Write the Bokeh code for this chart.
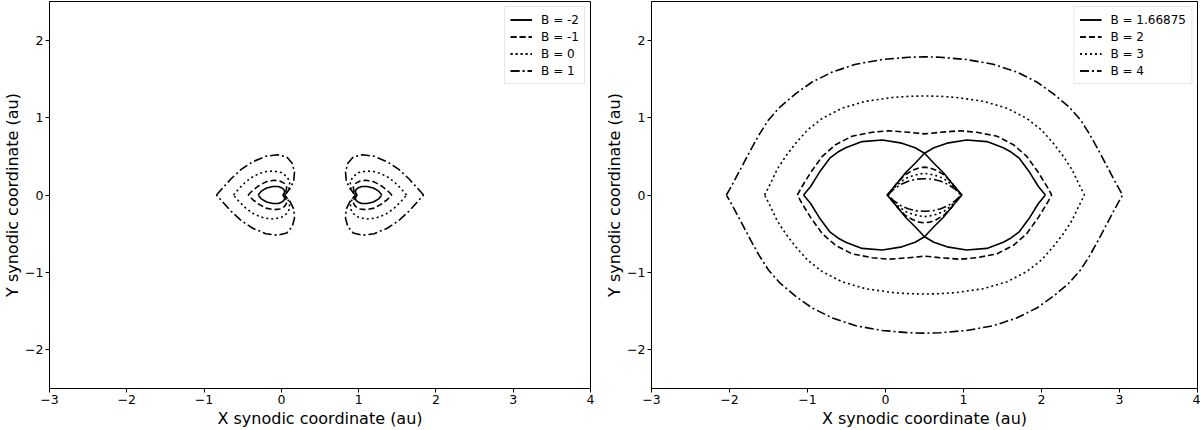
from bokeh.plotting import figure
from bokeh.models import FixedTicker, Legend, LegendItem, Range1d
from bokeh.layouts import row
from bokeh.embed import file_html
from bokeh.resources import INLINE

# ---------------- data (upper halves; curves are symmetric about y=0) ----------
# Left panel: hearts around the body at x=0 (pointing left) and x=1 (pointing right)
lh_bm2_x = [-0.30, -0.26, -0.19, -0.11, -0.04, 0.01, 0.04, 0.04, 0.02]
lh_bm2_y = [0.00, 0.05, 0.09, 0.11, 0.11, 0.09, 0.06, 0.03, 0.00]
rh_bm2_x = [1.30, 1.26, 1.19, 1.11, 1.04, 0.99, 0.96, 0.96, 0.98]
rh_bm2_y = [0.00, 0.05, 0.09, 0.11, 0.11, 0.09, 0.06, 0.03, 0.00]

lh_bm1_x = [-0.43, -0.37, -0.29, -0.20, -0.10, -0.02, 0.04, 0.07, 0.06, 0.03]
lh_bm1_y = [0.00, 0.06, 0.12, 0.17, 0.19, 0.18, 0.15, 0.10, 0.05, 0.00]
rh_bm1_x = [1.43, 1.37, 1.29, 1.20, 1.10, 1.02, 0.96, 0.93, 0.94, 0.97]
rh_bm1_y = [0.00, 0.06, 0.12, 0.17, 0.19, 0.18, 0.15, 0.10, 0.05, 0.00]

lh_b0_x = [-0.62, -0.55, -0.46, -0.35, -0.22, -0.10, 0.00, 0.07, 0.11, 0.10, 0.07, 0.04]
lh_b0_y = [0.00, 0.08, 0.17, 0.25, 0.30, 0.31, 0.29, 0.24, 0.17, 0.09, 0.03, 0.00]
rh_b0_x = [1.62, 1.55, 1.46, 1.35, 1.22, 1.10, 1.00, 0.93, 0.89, 0.90, 0.93, 0.96]
rh_b0_y = [0.00, 0.08, 0.17, 0.25, 0.30, 0.31, 0.29, 0.24, 0.17, 0.09, 0.03, 0.00]

lh_b1_x = [-0.84, -0.75, -0.65, -0.52, -0.37, -0.20, -0.05, 0.07, 0.14, 0.17, 0.16, 0.11, 0.06, 0.04]
lh_b1_y = [0.00, 0.10, 0.21, 0.33, 0.43, 0.50, 0.52, 0.49, 0.41, 0.30, 0.18, 0.08, 0.02, 0.00]
rh_b1_x = [1.84, 1.75, 1.65, 1.52, 1.37, 1.20, 1.05, 0.93, 0.86, 0.83, 0.84, 0.89, 0.94, 0.96]
rh_b1_y = [0.00, 0.10, 0.21, 0.33, 0.43, 0.50, 0.52, 0.49, 0.41, 0.30, 0.18, 0.08, 0.02, 0.00]

# Right panel
# B = 1.66875: two overlapping "eyes"
eyeL_x = [-1.05, -0.96, -0.85, -0.71, -0.61, -0.51, -0.30, -0.04, 0.21, 0.38, 0.50,
          0.62, 0.74, 0.87, 0.98]
eyeL_y = [0.00, 0.11, 0.29, 0.48, 0.555, 0.61, 0.69, 0.71, 0.67, 0.61, 0.54,
          0.41, 0.29, 0.13, 0.00]
eyeR_x = [2.05, 1.96, 1.85, 1.71, 1.61, 1.51, 1.30, 1.04, 0.79, 0.62, 0.50,
          0.38, 0.26, 0.13, 0.02]
eyeR_y = [0.00, 0.11, 0.29, 0.48, 0.555, 0.61, 0.69, 0.71, 0.67, 0.61, 0.54,
          0.41, 0.29, 0.13, 0.00]

# B = 2
b2_out_x = [-1.13, -1.07, -0.96, -0.81, -0.64, -0.43, -0.17, 0.04, 0.30, 0.50,
            0.70, 0.96, 1.17, 1.43, 1.64, 1.81, 1.96, 2.07, 2.13]
b2_out_y = [0.00, 0.11, 0.29, 0.50, 0.65, 0.76, 0.81, 0.83, 0.81, 0.79,
            0.81, 0.83, 0.81, 0.76, 0.65, 0.50, 0.29, 0.11, 0.00]
b2_in_x = [0.03, 0.09, 0.16, 0.25, 0.35, 0.43, 0.50, 0.57, 0.65, 0.75, 0.84, 0.91, 0.97]
b2_in_y = [0.00, 0.08, 0.17, 0.26, 0.32, 0.35, 0.36, 0.35, 0.32, 0.26, 0.17, 0.08, 0.00]

# B = 3
b3_out_x = [-1.55, -1.51, -1.47, -1.39, -1.28, -1.15, -1.00, -0.81, -0.56, -0.26, 0.09, 0.30, 0.50,
            0.70, 0.91, 1.26, 1.56, 1.81, 2.00, 2.15, 2.28, 2.39, 2.47, 2.51, 2.55]
b3_out_y = [0.00, 0.08, 0.16, 0.33, 0.50, 0.67, 0.84, 0.99, 1.12, 1.21, 1.26, 1.275, 1.28,
            1.275, 1.26, 1.21, 1.12, 0.99, 0.84, 0.67, 0.50, 0.33, 0.16, 0.08, 0.00]
b3_in_x = [0.03, 0.09, 0.16, 0.25, 0.35, 0.43, 0.50, 0.57, 0.65, 0.75, 0.84, 0.91, 0.97]
b3_in_y = [0.00, 0.07, 0.14, 0.21, 0.25, 0.27, 0.28, 0.27, 0.25, 0.21, 0.14, 0.07, 0.00]

# B = 4
b4_out_x = [-2.04, -2.00, -1.94, -1.84, -1.73, -1.62, -1.50, -1.35, -1.15, -0.94, -0.68, -0.38,
            -0.04, 0.30, 0.50, 0.70, 1.04, 1.38, 1.68, 1.94, 2.15, 2.35, 2.50, 2.62, 2.73,
            2.84, 2.94, 3.00, 3.04]
b4_out_y = [0.00, 0.07, 0.18, 0.37, 0.58, 0.78, 0.97, 1.14, 1.31, 1.46, 1.59, 1.69,
            1.75, 1.78, 1.785, 1.78, 1.75, 1.69, 1.59, 1.46, 1.31, 1.14, 0.97, 0.78, 0.58,
            0.37, 0.18, 0.07, 0.00]
b4_in_x = [0.03, 0.10, 0.20, 0.30, 0.40, 0.50, 0.60, 0.70, 0.80, 0.90, 0.97]
b4_in_y = [0.00, 0.07, 0.14, 0.18, 0.205, 0.21, 0.205, 0.18, 0.14, 0.07, 0.00]

x_ticks = [-3, -2, -1, 0, 1, 2, 3, 4]
y_ticks = [-2, -1, 0, 1, 2]
left_labels = ["B = -2", "B = -1", "B = 0", "B = 1"]
right_labels = ["B = 1.66875", "B = 2", "B = 3", "B = 4"]

# ---------------- styling -----------------
DASHES = ["solid", "6 3", "2 3", "9 3 2 3"]
LW = 1.6
FONT = "DejaVu Sans"


def closed(xs, ys):
    """Upper half + its reflection in the x axis, giving a closed curve."""
    return xs + xs[-2::-1], ys + [-v for v in ys[-2::-1]]


def minus(v):
    return str(v).replace("-", "\u2212")


def make_fig(width, border_left, border_right):
    p = figure(width=width, height=430, x_range=Range1d(-3, 4), y_range=Range1d(-2.5, 2.5),
               output_backend="svg", toolbar_location=None,
               min_border_left=border_left, min_border_right=border_right,
               min_border_top=1, min_border_bottom=10)
    p.grid.visible = False
    p.outline_line_color = "black"
    p.outline_line_width = 1
    p.outline_line_alpha = 1
    p.background_fill_color = "white"
    p.border_fill_color = "white"
    p.xaxis.ticker = FixedTicker(ticks=x_ticks)
    p.yaxis.ticker = FixedTicker(ticks=y_ticks)
    p.xaxis.major_label_overrides = {t: minus(t) for t in x_ticks}
    p.yaxis.major_label_overrides = {t: minus(t) for t in y_ticks}
    for ax in (p.xaxis, p.yaxis):
        ax.axis_line_color = "black"
        ax.major_tick_line_color = "black"
        ax.minor_tick_line_color = None
        ax.major_tick_out = 4
        ax.major_tick_in = 0
        ax.major_label_text_font = FONT
        ax.major_label_text_font_size = "12.5px"
        ax.major_label_text_color = "black"
        ax.major_label_standoff = 2
        ax.axis_label_text_font = FONT
        ax.axis_label_text_font_size = "16px"
        ax.axis_label_text_font_style = "normal"
        ax.axis_label_text_color = "black"
        ax.axis_label_standoff = 2
    p.yaxis.axis_label_standoff = 0
    p.xaxis.axis_label = "X synodic coordinate (au)"
    p.yaxis.axis_label = "Y synodic coordinate (au)"
    return p


def add_legend(p, items):
    leg = Legend(items=items, location="top_right")
    leg.label_text_font = FONT
    leg.label_text_font_size = "12px"
    leg.label_text_color = "black"
    leg.border_line_color = "#cccccc"
    leg.border_line_width = 1
    leg.background_fill_alpha = 0.9
    leg.glyph_width = 22
    leg.glyph_height = 15
    leg.label_height = 15
    leg.label_standoff = 9
    leg.spacing = 2
    leg.padding = 5
    leg.margin = 5
    p.add_layout(leg)


# ---------------- left panel -----------------
p1 = make_fig(600, 45, 10)
left_curves = [
    [(lh_bm2_x, lh_bm2_y), (rh_bm2_x, rh_bm2_y)],
    [(lh_bm1_x, lh_bm1_y), (rh_bm1_x, rh_bm1_y)],
    [(lh_b0_x, lh_b0_y), (rh_b0_x, rh_b0_y)],
    [(lh_b1_x, lh_b1_y), (rh_b1_x, rh_b1_y)],
]
items1 = []
for label, dash, curves in zip(left_labels, DASHES, left_curves):
    rs = []
    for xs, ys in curves:
        cx, cy = closed(xs, ys)
        rs.append(p1.line(cx, cy, line_color="black", line_width=LW, line_dash=dash))
    items1.append(LegendItem(label=label, renderers=rs))
add_legend(p1, items1)

# ---------------- right panel -----------------
p2 = make_fig(600, 51, 3)
right_curves = [
    [(eyeL_x, eyeL_y), (eyeR_x, eyeR_y)],
    [(b2_out_x, b2_out_y), (b2_in_x, b2_in_y)],
    [(b3_out_x, b3_out_y), (b3_in_x, b3_in_y)],
    [(b4_out_x, b4_out_y), (b4_in_x, b4_in_y)],
]
items2 = []
for label, dash, curves in zip(right_labels, DASHES, right_curves):
    rs = []
    for xs, ys in curves:
        cx, cy = closed(xs, ys)
        rs.append(p2.line(cx, cy, line_color="black", line_width=LW, line_dash=dash))
    items2.append(LegendItem(label=label, renderers=rs))
add_legend(p2, items2)

layout = row(p1, p2)
open("out.html", "w").write(file_html(layout, INLINE))
